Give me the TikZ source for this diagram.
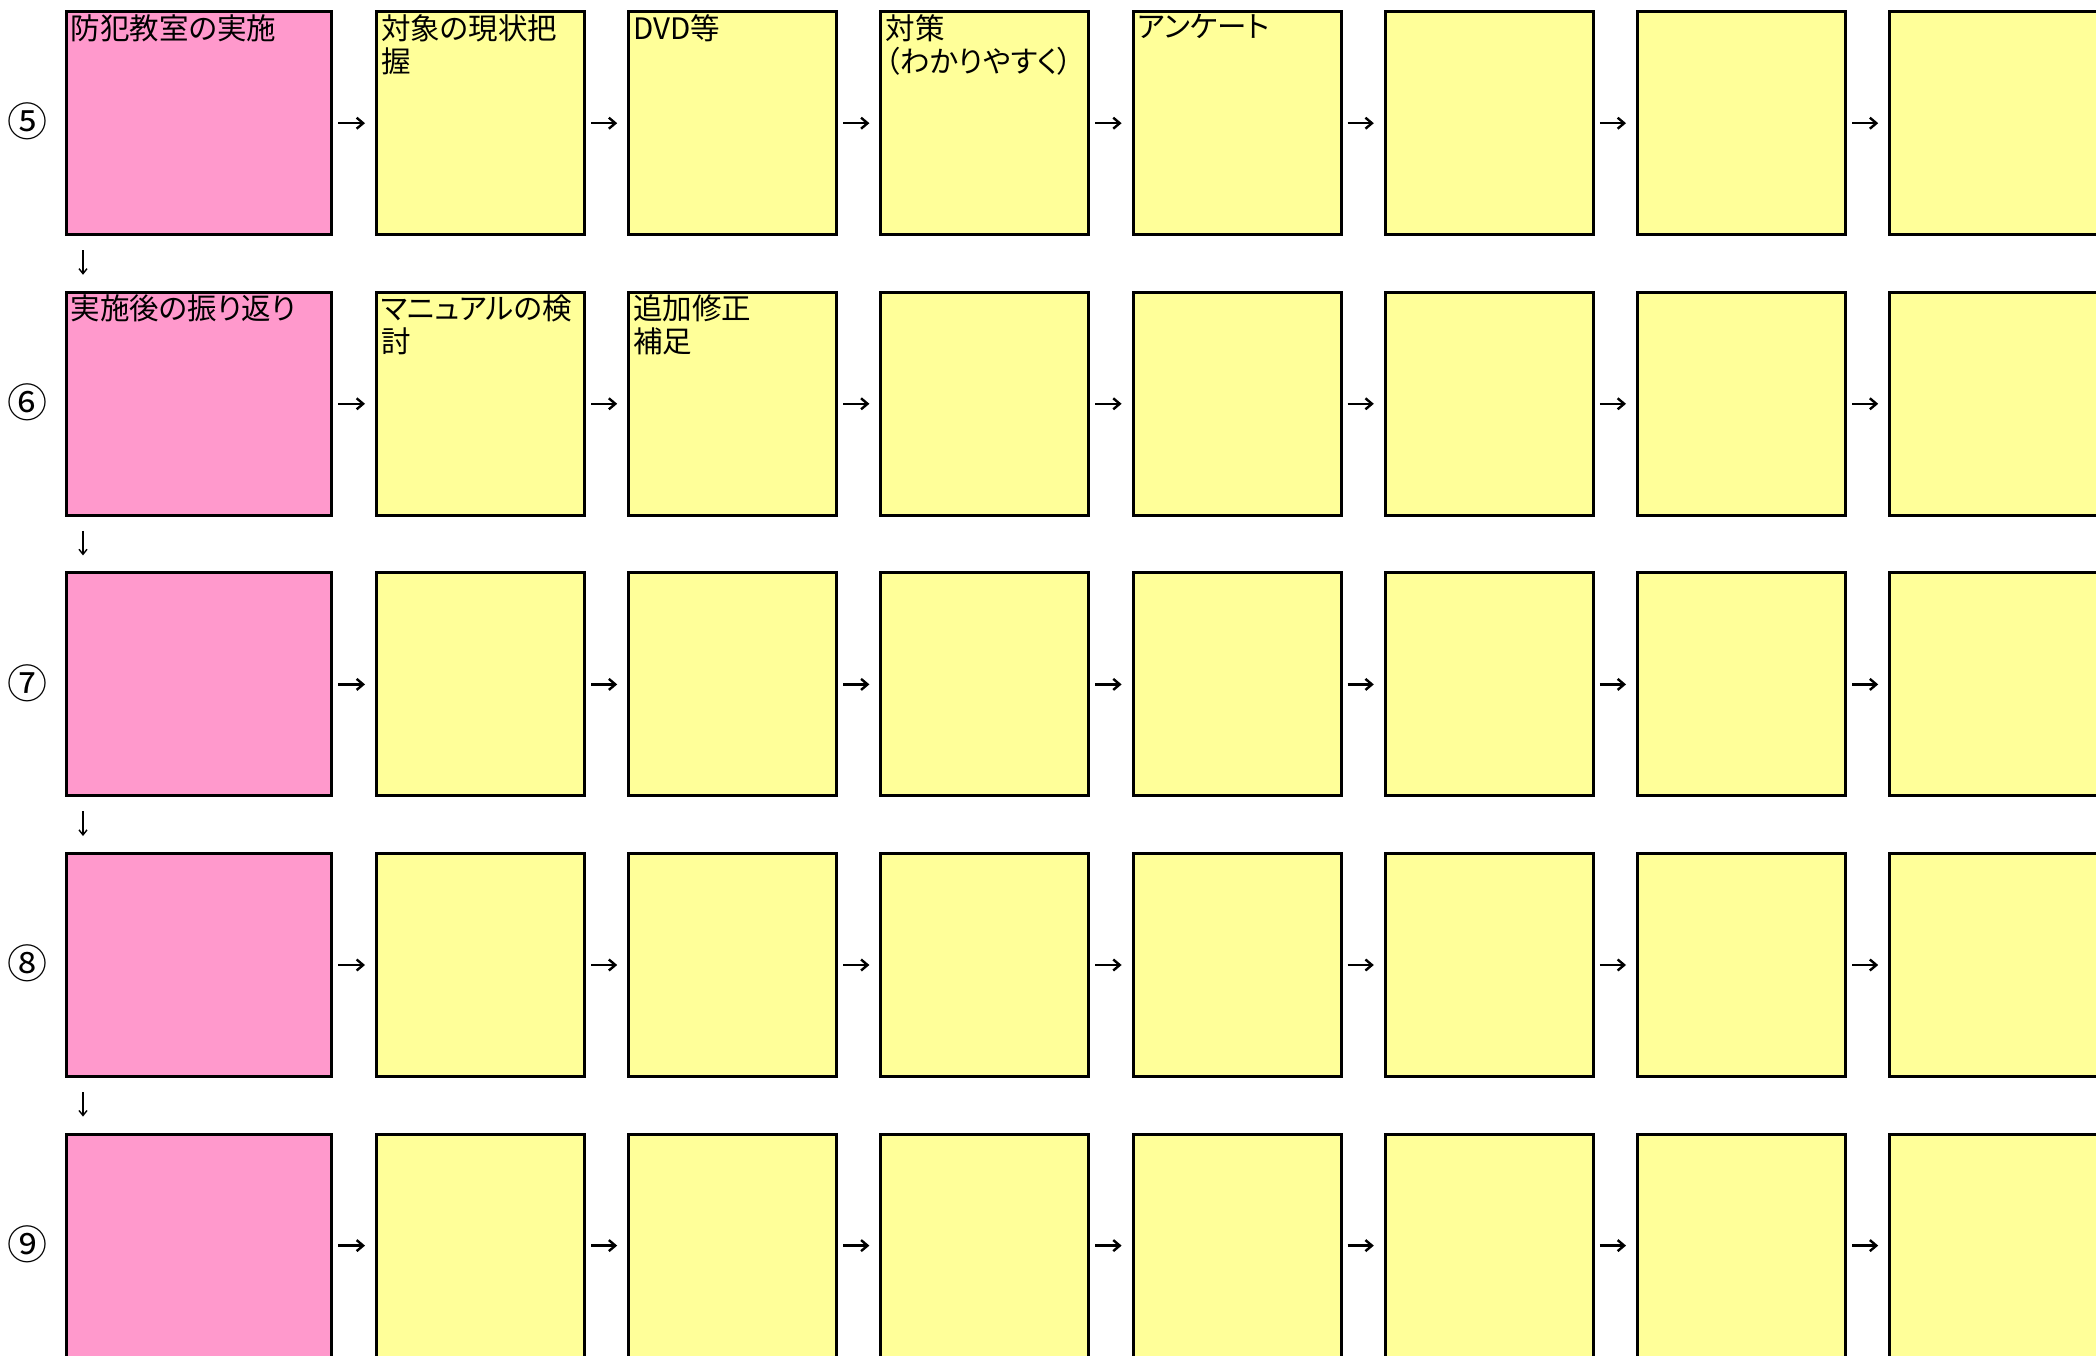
\documentclass[tikz,border=0pt]{standalone}
\usepackage{fontspec}
\newfontfamily\jp[RawFeature=+palt]{Noto Sans CJK JP}
\newfontfamily\jpnum{Noto Sans CJK JP}
\usetikzlibrary{arrows.meta,calc}
\definecolor{boxpink}{HTML}{FF99CC}
\definecolor{boxyellow}{HTML}{FFFF99}
\tikzset{
  cell/.style={draw=black, line width=3pt, inner sep=0pt, anchor=north west, minimum height=223pt},
  pinkbox/.style={cell, fill=boxpink, minimum width=265.5pt},
  yelbox/.style={cell, fill=boxyellow, minimum width=208pt},
  harrow/.style={line width=2.4pt, -{Straight Barb[length=6.5pt,width=11pt]}, shorten <=5pt, shorten >=10pt},
  varrow/.style={line width=1.4pt, -{Straight Barb[length=5pt,width=8pt]}, shorten <=14pt, shorten >=16pt},
  lbl/.style={anchor=north west, inner sep=0pt, align=left, font=\jp\fontsize{29.5}{33}\selectfont},
  numlab/.style={inner sep=0pt, font=\jpnum\fontsize{40}{40}\selectfont}
}
\begin{document}
\begin{tikzpicture}[x=1pt,y=-1pt]
\useasboundingbox (0,0) rectangle (2096,1356);
\fill[white] (0,0) rectangle (2096,1356);
\foreach \r in {5,...,9}{
  \pgfmathsetmacro\yy{10.2+280.6*(\r-5)}
  \node[pinkbox] (b\r1) at (64.5,\yy) {};
  \foreach \c in {2,...,8}{
    \pgfmathsetmacro\xx{375+252.2*(\c-2)}
    \node[yelbox] (b\r\c) at (\xx,\yy) {};
  }
}
% circled numbers
\node[numlab] (n5) at (28,121.7) {⑤};
\node[numlab] (n6) at (28,402.3) {⑥};
\node[numlab] (n7) at (28,682.9) {⑦};
\node[numlab] (n8) at (28,963.5) {⑧};
\node[numlab] (n9) at (28,1244.1) {⑨};
% horizontal arrows
\foreach \r in {5,...,9}{
  \foreach \c [evaluate=\c as \d using int(\c+1)] in {1,...,7}{
    \draw[harrow] (b\r\c.east) -- (b\r\d.west);
  }
}
% vertical arrows
\foreach \r [evaluate=\r as \s using int(\r+1)] in {5,...,8}{
  \draw[varrow] ([xshift=18.5pt]b\r1.south west) -- ([xshift=18.5pt]b\s1.north west);
}
% labels
\node[lbl] (t51) at ([xshift=6pt,yshift=-4pt]b51.north west) {防犯教室の実施};
\node[lbl] (t52) at ([xshift=6pt,yshift=-4pt]b52.north west) {対象の現状把\\握};
\node[lbl] (t53) at ([xshift=6pt,yshift=-4pt]b53.north west) {DVD等};
\node[lbl] (t54) at ([xshift=6pt,yshift=-4pt]b54.north west) {対策\\（わかりやすく）};
\node[lbl] (t55) at ([xshift=6pt,yshift=-4pt]b55.north west) {アンケート};
\node[lbl] (t61) at ([xshift=6pt,yshift=-4pt]b61.north west) {実施後の振り返り};
\node[lbl] (t62) at ([xshift=6pt,yshift=-4pt]b62.north west) {マニュアルの検\\討};
\node[lbl] (t63) at ([xshift=6pt,yshift=-4pt]b63.north west) {追加修正\\補足};
\end{tikzpicture}
\end{document}
